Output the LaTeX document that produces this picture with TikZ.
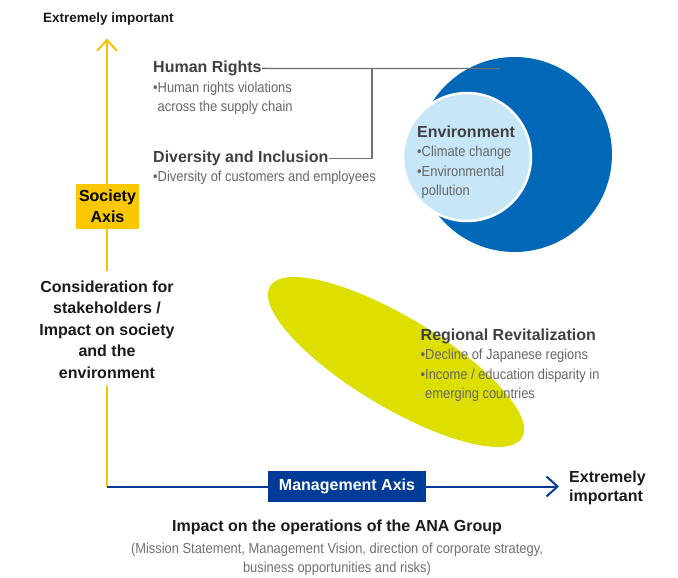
\documentclass[tikz,border=0pt]{standalone}
\usepackage{fontspec}
\setmainfont{Liberation Sans}
\newfontfamily\condfont{Liberation Sans}[FakeStretch=0.89]
\usetikzlibrary{arrows.meta,shapes.geometric}
\definecolor{axisyellow}{HTML}{F6C400}
\definecolor{socyellow}{HTML}{F9C800}
\definecolor{axisblue}{HTML}{003C97}
\definecolor{envblue}{HTML}{0068B7}
\definecolor{envlight}{HTML}{C7E6F7}
\definecolor{ellgreen}{HTML}{DCDF00}
\definecolor{headgray}{HTML}{404040}
\definecolor{itemgray}{HTML}{666666}
\definecolor{subgray}{HTML}{707070}
\definecolor{conngray}{HTML}{6E6E6E}
\definecolor{textblack}{HTML}{1A1A1A}
\begin{document}
\begin{tikzpicture}[x=1pt,y=-1pt,
  head/.style={font=\bfseries\fontsize{16}{21}\selectfont, text=headgray, inner sep=0pt},
  blackhead/.style={font=\bfseries\fontsize{16}{21.5}\selectfont, text=textblack, inner sep=0pt, align=center},
  item/.style={font=\condfont\fontsize{14.5}{19.5}\selectfont, text=itemgray, inner sep=0pt, align=left},
  conn/.style={draw=conngray, line width=1.3pt},
  yax/.style={draw=axisyellow, line width=2pt},
  bax/.style={draw=axisblue, line width=2pt},
  tipbarb/.style={-{Straight Barb[length=11pt,width=20pt]}}
]
\useasboundingbox (0,0) rectangle (678,578);

% shapes
\node[ellipse, fill=ellgreen, minimum width=294pt, minimum height=90pt, inner sep=0pt, rotate=-31] (regell) at (396,362) {};
\node[circle, fill=envblue, minimum size=195pt, inner sep=0pt] (envbig) at (514.5,154.5) {};
\node[circle, fill=envlight, draw=white, line width=2.5pt, minimum size=128pt, inner sep=0pt] (envsmall) at (467,157) {};

% axes
\coordinate (origin) at (107,486.5);
\coordinate (ytip) at (107,38.5);
\coordinate (xtip) at (559,486.5);
\coordinate (ygapl) at (107,386);
\coordinate (ygaph) at (107,271);
\draw[yax] (origin) -- (ygapl);
\draw[yax, tipbarb] (ygaph) -- (ytip);
\draw[bax, tipbarb] (origin) -- (xtip);

\node[fill=socyellow, minimum width=63pt, minimum height=45pt, inner sep=0pt, align=center,
  font=\bfseries\fontsize{16}{21}\selectfont, text=black] (soc) at (107.5,206.5) {Society\\Axis};
\node[fill=axisblue, minimum width=158pt, minimum height=31pt, inner sep=0pt,
  font=\bfseries\fontsize{16}{19}\selectfont, text=white] (mgmt) at (347,486.5) {Management Axis};

% multi-line nodes: base anchor = baseline of last line
\node[blackhead, anchor=base] (consid) at (107,378) {Consideration for\\stakeholders /\\Impact on society\\and the\\environment};

\node[font=\bfseries\fontsize{13.5}{16}\selectfont, text=textblack, inner sep=0pt, anchor=base west] (ytop) at (43,22.5) {Extremely important};
\node[font=\bfseries\fontsize{16}{19}\selectfont, text=textblack, inner sep=0pt, anchor=base west, align=left] (xtop) at (569,501.5) {Extremely\\important};

\node[font=\bfseries\fontsize{16}{19}\selectfont, text=textblack, inner sep=0pt, anchor=base] (impact) at (337,531.5) {Impact on the operations of the ANA Group};
\node[item, align=center, anchor=base, text=subgray] (impactsub) at (337,572.5) {(Mission Statement, Management Vision, direction of corporate strategy,\\business opportunities and risks)};

% issue labels
\node[head, anchor=base west] (hr) at (153,72.5) {Human Rights};
\node[item, anchor=base west] (hritems) at (153,111.5) {•Human rights violations\\\hphantom{•}across the supply chain};
\node[head, anchor=base west] (di) at (153,162.5) {Diversity and Inclusion};
\node[item, anchor=base west] (diitems) at (153,181) {•Diversity of customers and employees};

\node[head, anchor=base west] (env) at (417,137) {Environment};
\node[item, anchor=base west] (envitems) at (417,195.5) {•Climate change\\•Environmental\\\hphantom{•}pollution};

\node[head, anchor=base west] (reg) at (420.5,340) {Regional Revitalization};
\node[item, anchor=base west] (regitems) at (420.5,398.5) {•Decline of Japanese regions\\•Income / education disparity in\\\hphantom{•}emerging countries};

% connectors
\coordinate (hrend) at (500,68.5);
\coordinate (junc) at (372,68.5);
\draw[conn] (hr.east) -- (hrend);
\draw[conn] (di.east) -| (junc);
\end{tikzpicture}
\end{document}
